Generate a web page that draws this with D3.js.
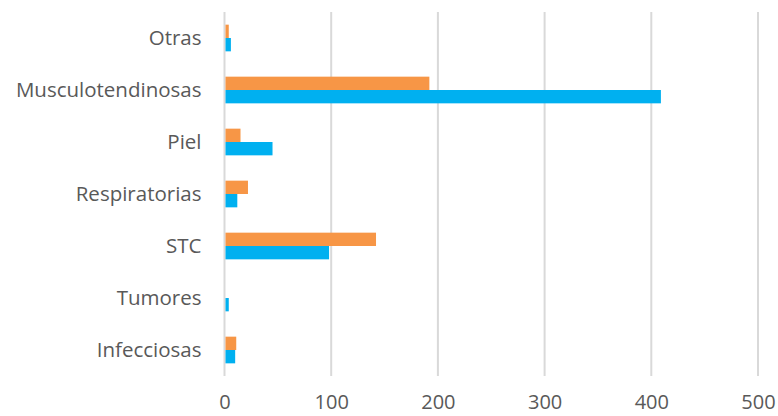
<!DOCTYPE html>
<html>
<head>
<meta charset="utf-8">
<script src="https://cdn.jsdelivr.net/npm/d3@7"></script>
<style>
  html, body { margin: 0; padding: 0; background: #fff; }
  text { font-family: "Open Sans", "Noto Sans", sans-serif; fill: #595959; }
</style>
</head>
<body>
<svg id="chart" width="778" height="416"></svg>
<script>
// Categories from top to bottom
const categories = ["Otras", "Musculotendinosas", "Piel", "Respiratorias", "STC", "Tumores", "Infecciosas"];
// Two series per category (orange drawn above blue)
const seriesNames = ["A", "B"];
const seriesA = [4, 192, 15, 22, 142, 0, 11];
const seriesB = [6, 409, 45, 12, 98, 4, 10];
const xTicks = [0, 100, 200, 300, 400, 500];
const colors = ["#F79646", "#00B0F0"];

const svg = d3.select("#chart");
const margin = { top: 12, right: 20, bottom: 40, left: 224.5 };
const width = 758 - margin.left;
const height = 376 - margin.top;

const g = svg.append("g").attr("transform", `translate(${margin.left},${margin.top})`);

const x = d3.scaleLinear().domain([0, 500]).range([0, width]);
const y = d3.scaleBand().domain(categories).range([0, height]).paddingInner(0.487).paddingOuter(0.2435);
const ySub = d3.scaleBand().domain(seriesNames).range([0, y.bandwidth()]);

// Vertical gridlines
g.selectAll("line.grid")
  .data(xTicks)
  .join("line")
  .attr("class", "grid")
  .attr("x1", d => x(d)).attr("x2", d => x(d))
  .attr("y1", 0).attr("y2", height)
  .attr("stroke", "#D9D9D9")
  .attr("stroke-width", 2);

// Bars
const rows = categories.map((c, i) => ({ c, vals: [seriesA[i], seriesB[i]] }));
const grp = g.selectAll("g.cat").data(rows).join("g")
  .attr("class", "cat")
  .attr("transform", d => `translate(0,${y(d.c)})`);
grp.selectAll("rect")
  .data(d => d.vals.map((v, k) => ({ v, k })))
  .join("rect")
  .attr("x", x(0) + 1)
  .attr("y", d => ySub(seriesNames[d.k]))
  .attr("width", d => Math.max(0, x(d.v) - x(0) - 1))
  .attr("height", ySub.bandwidth())
  .attr("fill", d => colors[d.k]);

// Category labels
const yAxis = d3.axisLeft(y).tickSize(0).tickPadding(23);
const ya = g.append("g").call(yAxis);
ya.select(".domain").remove();
ya.selectAll("text").style("font-size", "20.5px").attr("fill", "#595959");

// Value axis labels
const xAxis = d3.axisBottom(x).tickValues(xTicks).tickSize(0).tickPadding(19);
const xa = g.append("g").attr("transform", `translate(0,${height})`).call(xAxis);
xa.select(".domain").remove();
xa.selectAll("text").style("font-size", "20px").attr("fill", "#595959");
</script>
</body>
</html>
